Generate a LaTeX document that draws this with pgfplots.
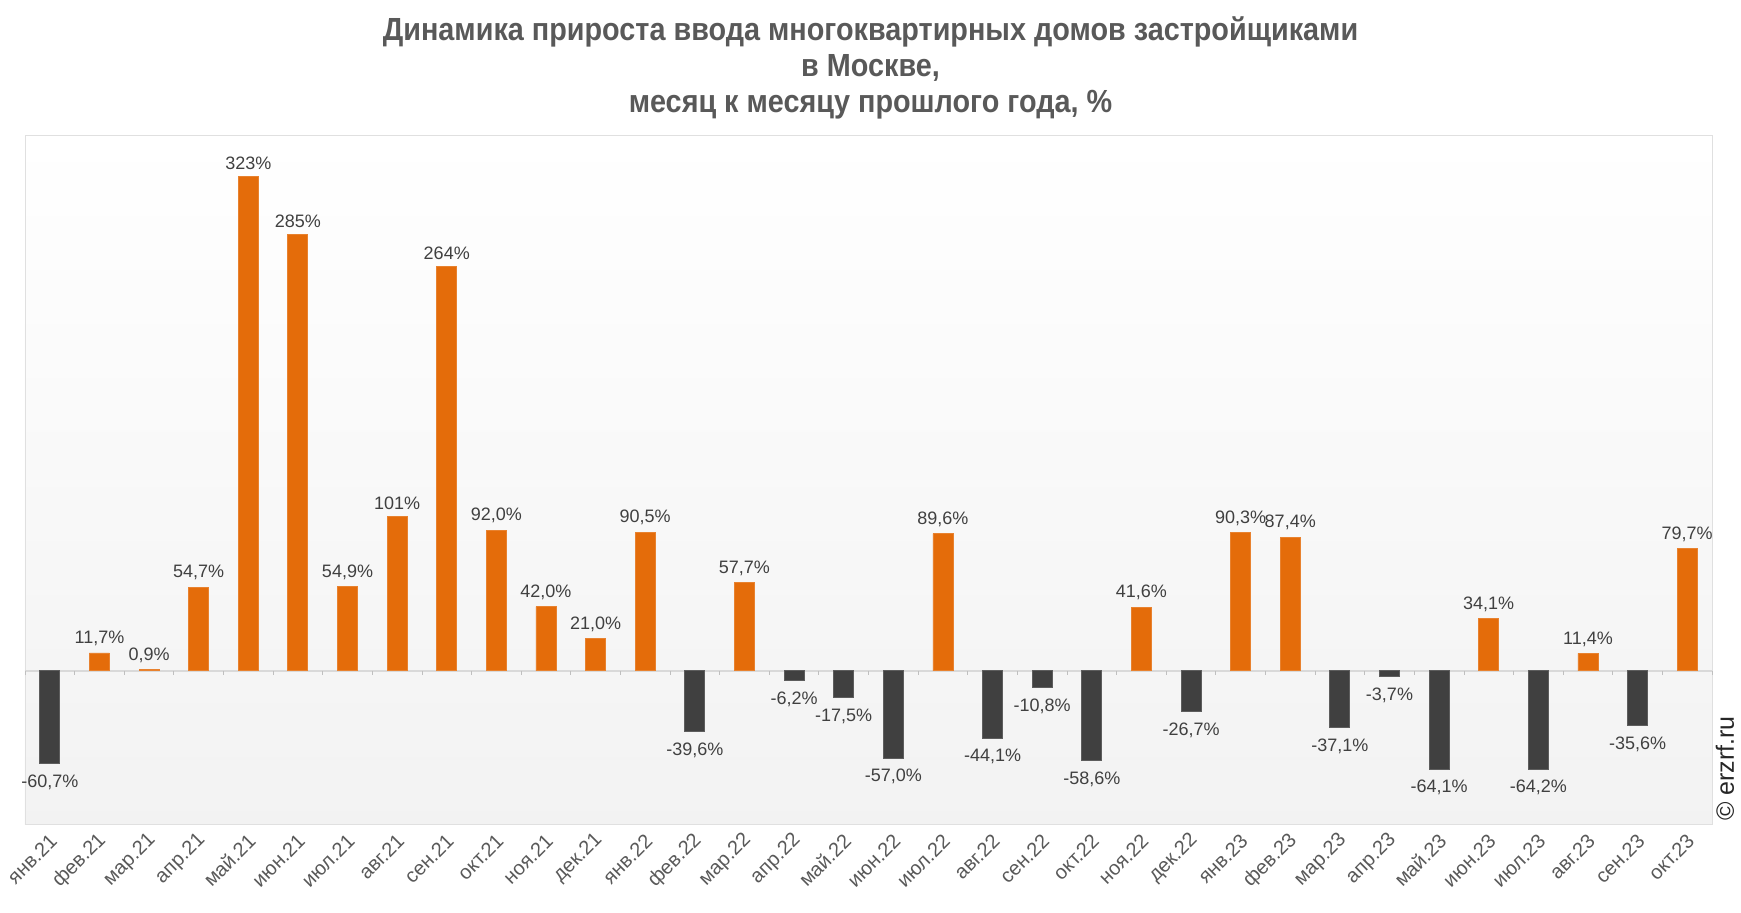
\documentclass[border=0pt]{standalone}
\usepackage{fontspec}
\setmainfont{Liberation Sans}
\newfontfamily\titlefont[FakeStretch=0.9]{Liberation Sans}
\usepackage{pgfplots}
\pgfplotsset{compat=1.18}
\usepackage{pgfplotstable}
\definecolor{barorange}{HTML}{E46C0A}
\definecolor{bargray}{HTML}{404040}
\definecolor{lbl}{HTML}{404040}
\definecolor{tck}{HTML}{595959}
\definecolor{ttl}{HTML}{595959}

\pgfplotstableread{
x y lab
1 11.7 11,7
2 0.9 0,9
3 54.7 54,7
4 323 323
5 285 285
6 54.9 54,9
7 101 101
8 264 264
9 92.0 92,0
10 42.0 42,0
11 21.0 21,0
12 90.5 90,5
14 57.7 57,7
18 89.6 89,6
22 41.6 41,6
24 90.3 90,3
25 87.4 87,4
29 34.1 34,1
31 11.4 11,4
33 79.7 79,7
}\pos

\pgfplotstableread{
x y lab
0 -60.7 -60,7
13 -39.6 -39,6
15 -6.2 -6,2
16 -17.5 -17,5
17 -57.0 -57,0
19 -44.1 -44,1
20 -10.8 -10,8
21 -58.6 -58,6
23 -26.7 -26,7
26 -37.1 -37,1
27 -3.7 -3,7
28 -64.1 -64,1
30 -64.2 -64,2
32 -35.6 -35,6
}\negv

\begin{document}
\begin{tikzpicture}
\useasboundingbox (0,0) rectangle (870.5pt,456pt);
\node[align=center, text=ttl, font=\titlefont\bfseries\fontsize{16}{18}\selectfont] at (435.25pt,422pt)
  {Динамика прироста ввода многоквартирных домов застройщиками\\в Москве,\\месяц к месяцу прошлого года, \%};
\begin{axis}[
  at={(12.5pt,44pt)}, anchor=south west,
  scale only axis, width=843.5pt, height=344.5pt,
  xmin=-0.5, xmax=33.5, ymin=-100, ymax=350,
  ytick=\empty,
  xtick={0,...,33},
  xticklabels={янв.21,фев.21,мар.21,апр.21,май.21,июн.21,июл.21,авг.21,сен.21,окт.21,ноя.21,дек.21,янв.22,фев.22,мар.22,апр.22,май.22,июн.22,июл.22,авг.22,сен.22,окт.22,ноя.22,дек.22,янв.23,фев.23,мар.23,апр.23,май.23,июн.23,июл.23,авг.23,сен.23,окт.23},
  major tick length=0pt,
  xticklabel style={rotate=45, anchor=east, font=\fontsize{10}{12}\selectfont, text=tck, yshift=-6pt},
  axis line style={draw=black!12},
  axis background/.style={top color=white, bottom color=black!5},
  ybar, bar width=10pt, bar shift=0pt,
  point meta=explicit symbolic,
  nodes near coords={\pgfplotspointmeta\%},
  every node near coord/.append style={font=\fontsize{9}{11}\selectfont, text=lbl},
  clip=false,
]
\draw[black!15, line width=1.2pt] (axis cs:-0.5,0) -- (axis cs:33.5,0);
\pgfplotsinvokeforeach{-0.5,0.5,...,33.5}{\draw[black!25] (axis cs:#1,0) -- (axis cs:#1,-2.5);}
\addplot[fill=barorange, draw=barorange!85!white,
  every node near coord/.append style={anchor=south}] table[x=x,y=y,meta=lab]{\pos};
\addplot[fill=bargray, draw=bargray!85!white,
  every node near coord/.append style={anchor=north, yshift=-2pt}] table[x=x,y=y,meta=lab]{\negv};
\end{axis}
\node[rotate=90, anchor=west, font=\fontsize{12.5}{14}\selectfont, text=black!85] at (862.5pt,42pt) {© erzrf.ru};
\end{tikzpicture}
\end{document}
